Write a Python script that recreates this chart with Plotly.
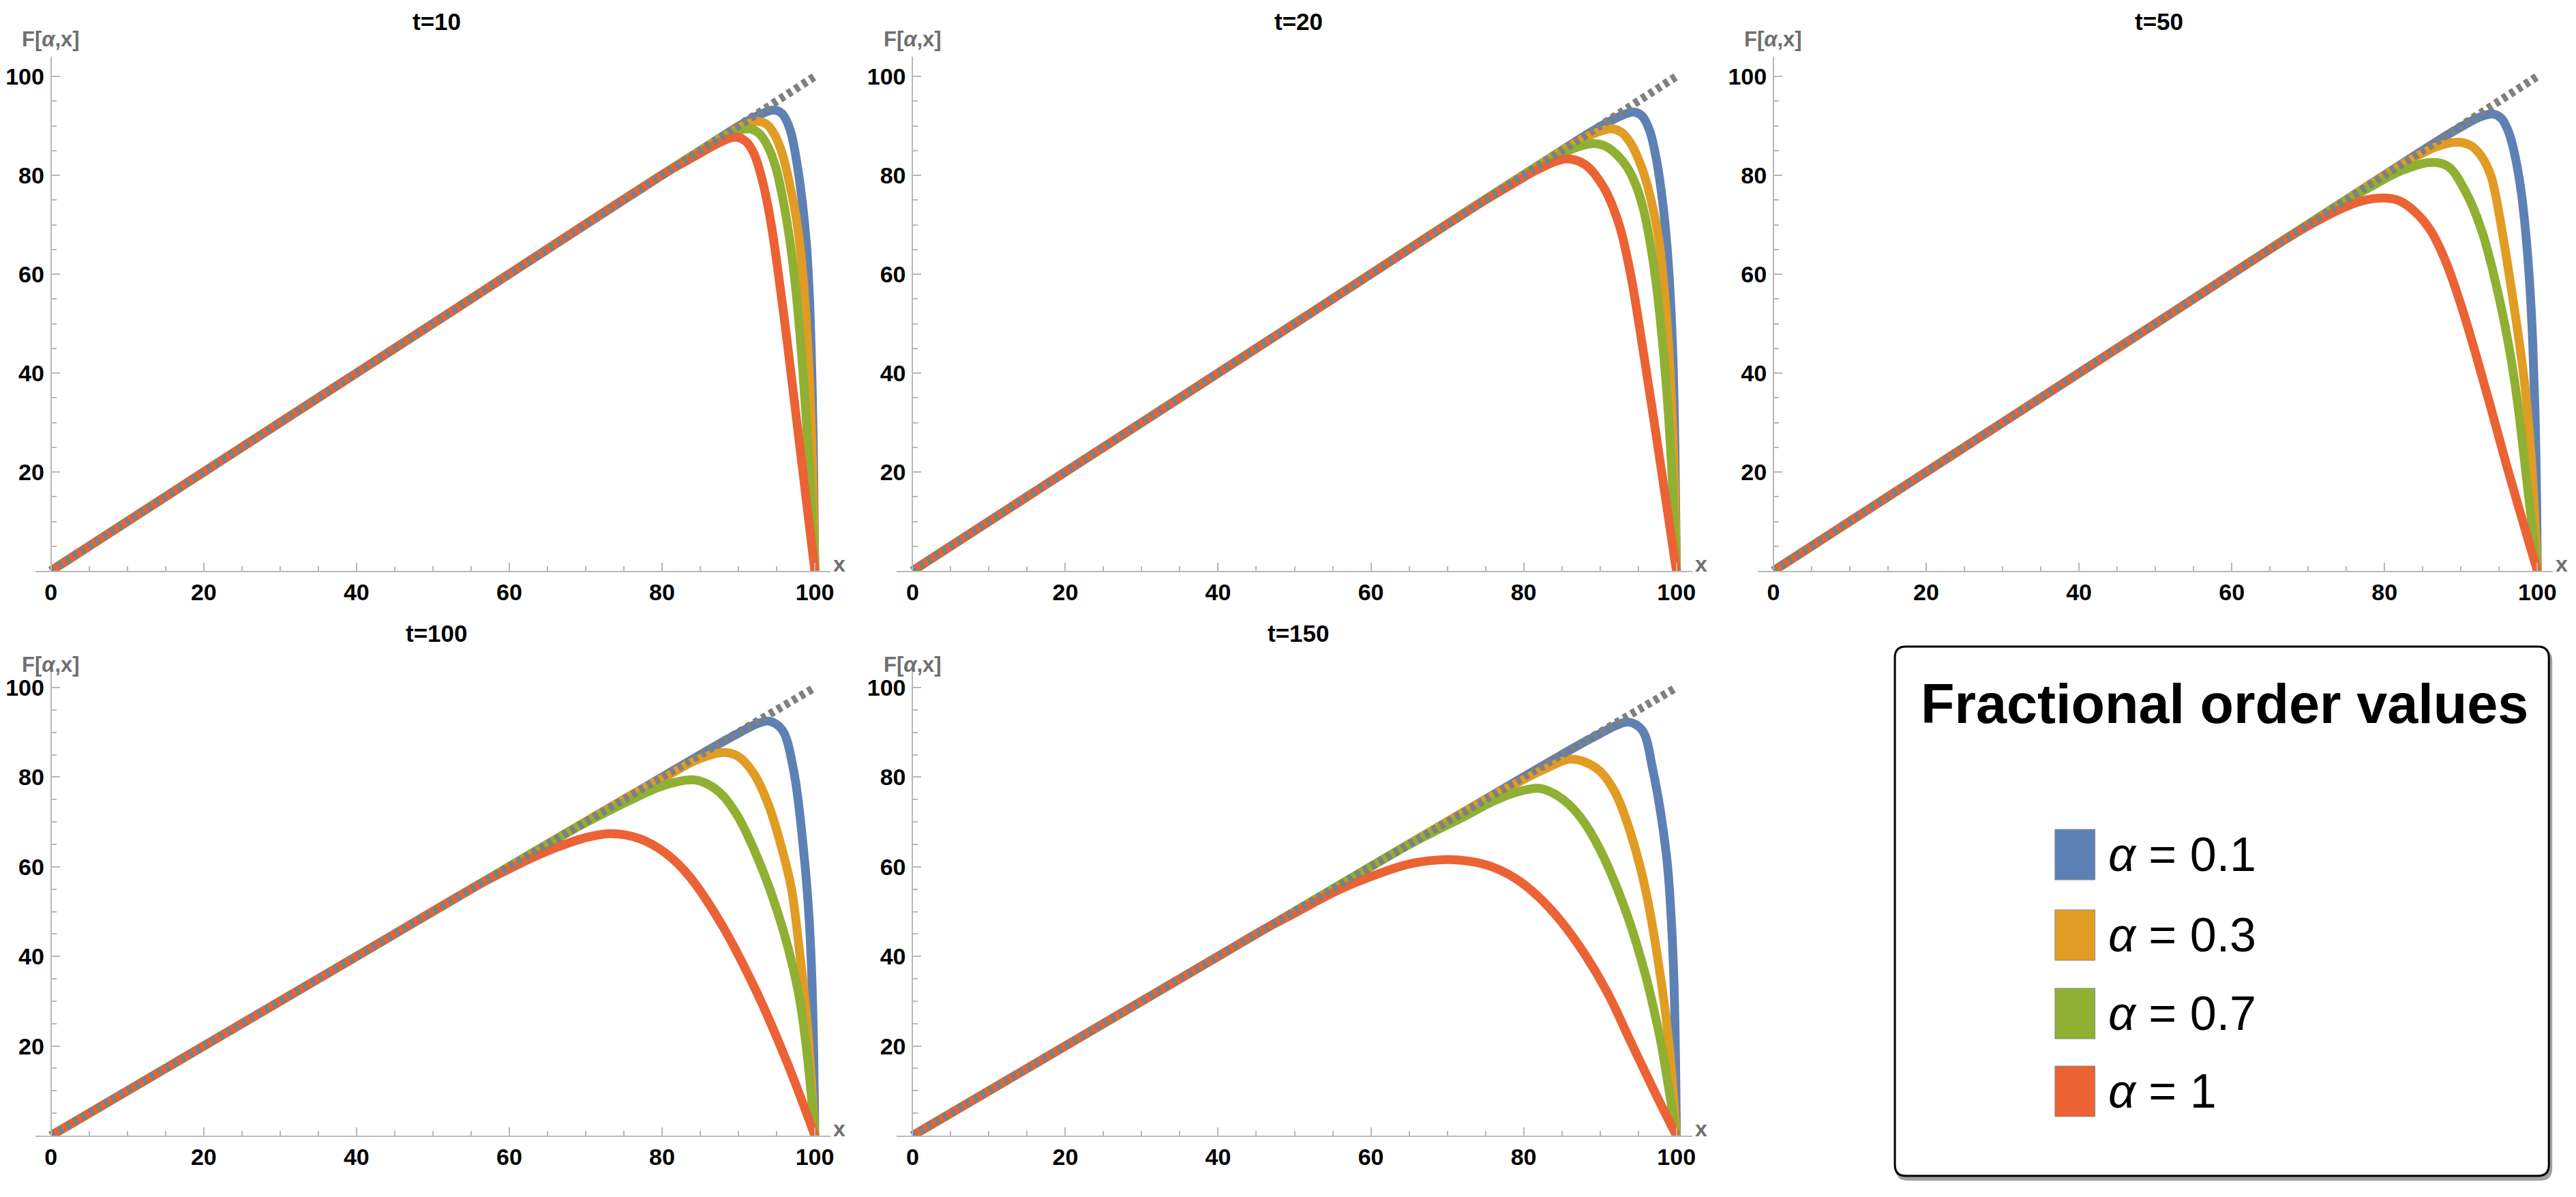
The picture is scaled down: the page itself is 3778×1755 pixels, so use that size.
import plotly.graph_objects as go

# ---------------- data ----------------
titles = ["t=10", "t=20", "t=50", "t=100", "t=150"]
alpha_labels = ["0.1", "0.3", "0.7", "1"]
colors = ["#5E81B5", "#E19C24", "#8FB032", "#EB6235"]
x_ticks = [0, 20, 40, 60, 80, 100]
y_ticks = [20, 40, 60, 80, 100]
minor_ticks = list(range(0, 101, 5))
identity_x = [0, 100]
identity_y = [0, 100]

# t = 10
t10_a01 = [(0, 0), (50, 50), (88, 88), (91, 90.8), (93, 92.4), (94.7, 93.2), (95.8, 92.3), (96.8, 89), (97.7, 82), (98.4, 74), (98.9, 66), (99.3, 55), (99.6, 40), (99.8, 25), (100, 0)]
t10_a03 = [(0, 0), (50, 50), (86, 86), (89, 88.7), (91, 90.3), (92.5, 90.9), (93.7, 90.3), (94.8, 88), (95.8, 84), (96.8, 77.5), (97.6, 71), (98.3, 62), (98.9, 50), (99.4, 35), (99.75, 18), (100, 0)]
t10_a07 = [(0, 0), (50, 50), (84, 84), (87, 86.6), (89.5, 88.7), (91.3, 89.4), (92.6, 88.6), (93.8, 86), (94.9, 81.5), (95.9, 74.5), (96.8, 66), (97.6, 55.5), (98.3, 43), (98.9, 30), (99.5, 15), (100, 0)]
t10_a1 = [(0, 0), (50, 50), (81, 81), (84, 83.6), (86.5, 85.8), (88.5, 87.3), (89.8, 87.7), (91, 86.8), (92, 84.5), (92.9, 80.3), (93.7, 75), (94.5, 68), (96, 51), (97.5, 32), (100, 0)]
# t = 20
t20_a01 = [(0, 0), (50, 50), (88, 88), (91, 90.7), (93, 92.2), (94.4, 92.8), (95.5, 92), (96.5, 89), (97.4, 83), (98.2, 74.5), (98.8, 65), (99.25, 54), (99.6, 40), (99.8, 25), (100, 0)]
t20_a03 = [(0, 0), (50, 50), (85, 85), (88, 87.6), (90, 88.9), (91.5, 89.4), (92.8, 88.7), (94, 86.5), (95.1, 83), (96, 79), (96.9, 73.5), (97.7, 67), (98.4, 57), (99, 45), (99.5, 29), (99.8, 15), (100, 0)]
t20_a07 = [(0, 0), (50, 50), (81, 81), (84, 83.5), (86.5, 85.4), (89.1, 86.4), (90.8, 85.8), (92.3, 84), (93.6, 81.5), (94.7, 78), (95.7, 73), (96.6, 66), (97.4, 57.5), (98.1, 47.5), (98.8, 35), (99.4, 20), (100, 0)]
t20_a1 = [(0, 0), (50, 50), (75, 75), (78.5, 78.2), (82, 81.3), (85.5, 83.3), (88, 82.2), (90.5, 77.5), (92.5, 70), (94, 60), (95.5, 46), (97, 31), (98.5, 15.5), (100, 0)]
# t = 50
t50_a01 = [(0, 0), (50, 50), (87, 87), (90.5, 90.2), (92.5, 91.8), (94.2, 92.4), (95.3, 91.5), (96.3, 88.5), (97.2, 83), (97.9, 76.5), (98.5, 68), (99, 58), (99.4, 46), (99.7, 32), (99.9, 15), (100, 0)]
t50_a03 = [(0, 0), (50, 50), (80, 80), (84, 83.7), (87, 85.9), (89.6, 86.7), (91.3, 86), (92.7, 83.8), (93.9, 80), (94.6, 75.5), (95.3, 69.5), (96.1, 62), (96.9, 54), (97.7, 45.5), (98.4, 37), (99, 27), (99.5, 15.5), (100, 0)]
t50_a07 = [(0, 0), (50, 50), (74, 74), (78, 77.5), (82, 80.8), (86, 82.6), (88.3, 81.8), (90.5, 77), (92.7, 68.9), (95.2, 53.8), (97, 38.6), (98.8, 15.9), (100, 0)]
t50_a1 = [(0, 0), (50, 50), (67, 67), (70.5, 70.2), (74, 73), (77, 74.8), (80, 75.4), (82, 74.8), (84, 72.6), (86, 68.9), (88, 62.6), (90, 53.8), (92, 43.5), (94, 32.5), (96, 21.2), (98, 10.5), (100, 0)]
# t = 100
t100_a01 = [(0, 0), (50, 50), (86, 86), (90, 89.8), (92.3, 91.8), (94, 92.5), (95.7, 90.6), (97.2, 81.7), (98.6, 62.4), (99.3, 47), (99.7, 30), (100, 0)]
t100_a03 = [(0, 0), (50, 50), (77, 77), (81, 80.6), (84.5, 83.8), (88, 85.5), (90, 84.6), (92, 80.8), (94, 73.5), (96, 62), (97, 54.5), (98, 41), (99, 25), (100, 0)]
t100_a07 = [(0, 0), (50, 50), (68, 68), (72, 71.6), (76, 75), (80, 78), (84, 79.4), (86, 78.4), (88, 75.8), (90, 71), (92, 64), (94, 55.5), (95, 50.5), (96, 45), (97, 38.5), (98, 30.5), (99, 18), (100, 0)]
t100_a1 = [(0, 0), (40, 40), (56, 56), (60, 59.5), (63, 62), (66.5, 64.5), (70, 66.5), (73.3, 67.4), (77, 66.3), (80.5, 63), (83.6, 57.8), (87.9, 46.8), (92.5, 31.6), (96.4, 16.2), (100, 0)]
# t = 150
t150_a01 = [(0, 0), (50, 50), (86, 86), (90, 89.7), (92.2, 91.6), (93.7, 92.3), (95.5, 90.5), (96.9, 81.7), (98.7, 62.4), (99.3, 49), (99.7, 33), (100, 0)]
t150_a03 = [(0, 0), (50, 50), (75, 75), (79, 78.6), (82.5, 81.6), (86, 84), (88, 83.4), (90, 81.3), (92, 76.5), (94, 67.5), (96, 54.5), (98, 34.5), (99, 21), (100, 0)]
t150_a07 = [(0, 0), (50, 50), (64, 64), (68, 67.6), (72, 71), (76, 74.6), (79, 76.6), (82, 77.5), (84, 76.3), (86, 73.8), (88, 69.7), (90, 63.8), (92, 56.2), (94, 47), (95, 41.5), (96, 35.5), (97, 28.5), (98, 20.5), (99, 10.5), (100, 0)]
t150_a1 = [(0, 0), (40, 40), (46, 46), (50, 49.6), (53, 52.4), (56, 55), (60, 57.8), (65, 60.6), (70, 61.6), (73, 61.2), (76, 59.9), (79, 57.3), (82, 53.2), (85, 47.6), (88, 40.5), (91, 31.8), (94, 21), (97, 10.3), (100, 0)]

panels = [
    [t10_a01, t10_a03, t10_a07, t10_a1],
    [t20_a01, t20_a03, t20_a07, t20_a1],
    [t50_a01, t50_a03, t50_a07, t50_a1],
    [t100_a01, t100_a03, t100_a07, t100_a1],
    [t150_a01, t150_a03, t150_a07, t150_a1],
]

# ---------------- layout geometry (pixels) ----------------
W, H = 3778, 1755
SX = 11.26                      # px per x unit
ROW_SY = [7.25, 6.57]           # px per y unit, per row
COL_X0 = [53, 1323, 2592]       # pixel x of data x=0
ROW_Y0 = [829, 1657]            # pixel y of data y=0
ROW_TITLE = [23, 920]
ROW_FLAB = [50, 966]
XR = [-2.05, 102.05]
YR = [0, 104]

FONT = "Liberation Sans, Arial, Helvetica, sans-serif"
AXC = "#b8b8b8"
LABC = "#6f6f6f"


def pxx(v):
    return v / W


def pxy(v):
    return 1 - v / H


fig = go.Figure()
annotations = []
shapes = []

for i, curves in enumerate(panels):
    r, c = divmod(i, 3)
    n = i + 1
    cx0 = COL_X0[c]
    ry0 = ROW_Y0[r]
    sy = ROW_SY[r]
    xs = "x" if n == 1 else f"x{n}"
    ys = "y" if n == 1 else f"y{n}"

    for curve, col in zip(curves, colors):
        fig.add_trace(go.Scatter(
            x=[p[0] for p in curve], y=[p[1] for p in curve],
            mode="lines", line=dict(color=col, width=13, shape="spline", smoothing=1.0),
            xaxis=xs, yaxis=ys, hoverinfo="skip", showlegend=False))
    fig.add_trace(go.Scatter(
        x=identity_x, y=identity_y, mode="lines",
        line=dict(color="#808080", width=12, dash="7px,6px"),
        xaxis=xs, yaxis=ys, hoverinfo="skip", showlegend=False))

    xd = [pxx(cx0 + XR[0] * SX), pxx(cx0 + XR[1] * SX)]
    yd = [pxy(ry0), pxy(ry0 - YR[1] * sy)]
    tickfont = dict(family=FONT, size=34, color="black", weight="bold")
    fig.layout[f"xaxis{n}"] = dict(
        domain=xd, range=XR, anchor=ys, tickmode="array", tickvals=x_ticks,
        ticks="inside", ticklen=12, tickwidth=2, tickcolor=AXC,
        showline=True, linecolor=AXC, linewidth=2, showgrid=False, zeroline=False,
        tickfont=tickfont, fixedrange=True,
        minor=dict(tickmode="array", tickvals=minor_ticks, ticks="inside", ticklen=7,
                   tickwidth=1.5, tickcolor=AXC, showgrid=False))
    fig.layout[f"yaxis{n}"] = dict(
        domain=yd, range=YR, anchor="free", position=pxx(cx0), tickmode="array",
        tickvals=y_ticks, ticks="inside", ticklen=12, tickwidth=2, tickcolor=AXC,
        showline=True, linecolor=AXC, linewidth=2, showgrid=False, zeroline=False,
        tickfont=tickfont, fixedrange=True, ticklabelstandoff=2,
        minor=dict(tickmode="array", tickvals=minor_ticks, ticks="inside", ticklen=7,
                   tickwidth=1.5, tickcolor=AXC, showgrid=False))

    # panel title
    annotations.append(dict(text=titles[i], xref="paper", yref="paper",
                            x=pxx(cx0 + 50.5 * SX), y=pxy(ROW_TITLE[r]),
                            xanchor="center", yanchor="middle", showarrow=False,
                            font=dict(family=FONT, size=35, color="black", weight="bold")))
    # y label
    annotations.append(dict(text="F[<i>α</i>,x]", xref="paper", yref="paper",
                            x=pxx(cx0 - 45), y=pxy(ROW_FLAB[r]),
                            xanchor="left", yanchor="middle", showarrow=False,
                            font=dict(family=FONT, size=31, color=LABC, weight="bold")))
    # x label
    annotations.append(dict(text="x", xref="paper", yref="paper",
                            x=pxx(cx0 + 1162), y=pxy(ry0 - 10),
                            xanchor="center", yanchor="middle", showarrow=False,
                            font=dict(family=FONT, size=32, color=LABC, weight="bold")))

# ---------------- legend box ----------------
def rrect(x0, y0, x1, y1, rad):
    return (f"M {pxx(x0 + rad)},{pxy(y0)} L {pxx(x1 - rad)},{pxy(y0)} "
            f"Q {pxx(x1)},{pxy(y0)} {pxx(x1)},{pxy(y0 + rad)} "
            f"L {pxx(x1)},{pxy(y1 - rad)} Q {pxx(x1)},{pxy(y1)} {pxx(x1 - rad)},{pxy(y1)} "
            f"L {pxx(x0 + rad)},{pxy(y1)} Q {pxx(x0)},{pxy(y1)} {pxx(x0)},{pxy(y1 - rad)} "
            f"L {pxx(x0)},{pxy(y0 + rad)} Q {pxx(x0)},{pxy(y0)} {pxx(x0 + rad)},{pxy(y0)} Z")

BX0, BY0, BX1, BY1 = 2771, 940, 3735, 1716
shapes.append(dict(type="path", xref="paper", yref="paper", path=rrect(BX0 + 3, BY0 + 5, BX1 + 3, BY1 + 5, 16),
                   line=dict(color="#a0a0a0", width=4), fillcolor="#a0a0a0", layer="above"))
shapes.append(dict(type="path", xref="paper", yref="paper", path=rrect(BX0, BY0, BX1, BY1, 16),
                   line=dict(color="black", width=3), fillcolor="white", layer="above"))
annotations.append(dict(text="Fractional order values", xref="paper", yref="paper",
                        x=pxx((BX0 + BX1) / 2 + 4), y=pxy(1024), xanchor="center", yanchor="middle",
                        showarrow=False, font=dict(family=FONT, size=81, color="black", weight="bold")))
entry_y = [1245, 1363, 1478, 1592]
for lab, col, ey in zip(alpha_labels, colors, entry_y):
    shapes.append(dict(type="rect", xref="paper", yref="paper",
                       x0=pxx(3007), x1=pxx(3066), y0=pxy(ey - 37), y1=pxy(ey + 37),
                       fillcolor=col, line=dict(color="#8a8a8a", width=1), layer="above"))
    annotations.append(dict(text=f"<i>α</i> = {lab}", xref="paper", yref="paper",
                            x=pxx(3084), y=pxy(ey), xanchor="left", yanchor="middle",
                            showarrow=False, font=dict(family=FONT, size=70, color="black")))

fig.update_layout(width=W, height=H, margin=dict(l=0, r=0, t=0, b=0),
                  paper_bgcolor="white", plot_bgcolor="white", showlegend=False,
                  annotations=annotations, shapes=shapes)

fig.write_html("out.html")
